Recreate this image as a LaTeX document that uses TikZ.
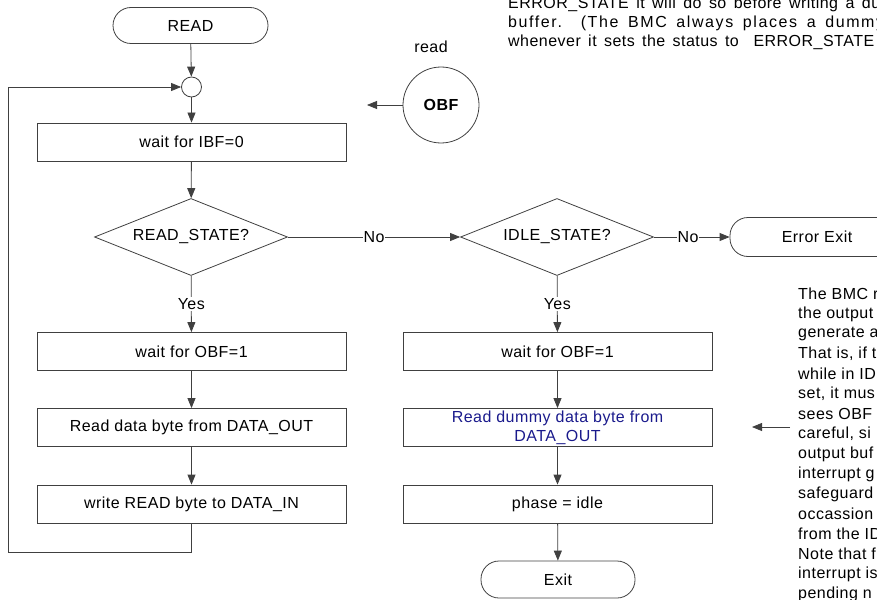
\documentclass[tikz,border=0pt]{standalone}
\usepackage{fontspec}
\setmainfont[LetterSpace=3]{Liberation Sans}
\usetikzlibrary{shapes.geometric,arrows.meta,positioning}
\definecolor{dummyblue}{RGB}{26,26,140}
\definecolor{linegray}{RGB}{64,64,64}
\newcommand\diafont{\fontsize{16}{19}\selectfont}
\newcommand\wideline[3]{\makebox[#1][s]{\addfontfeature{LetterSpace=#2}#3}}

\begin{document}
\begin{tikzpicture}[x=1pt,y=-1pt,font=\diafont]
            \tikzset{line/.style={draw=linegray, line width=0.8pt},
            flow/.style={line, -{Triangle[length=10pt,width=8pt]}},
            proc/.style={line, rectangle, minimum width=309pt, minimum height=38pt, inner sep=0pt},
            term/.style={line, rectangle, rounded corners=18pt, minimum height=36pt, inner sep=0pt},
            dec/.style={line, diamond, aspect=2.5, minimum width=193pt, minimum height=77pt, inner sep=0pt},
            lbl/.style={fill=white, inner sep=1pt},
            note/.style={anchor=west, inner sep=0pt}}

            \useasboundingbox (0,0) rectangle (877,599);
            \clip (0,0) rectangle (877,599);

            % left column
            \node[term, minimum width=155pt] (read) at (190.5,25.5) {READ};
            \node[line, circle, minimum size=20pt, inner sep=0pt] (join) at (191.5,87) {};
            \node[proc] (ibf) at (191.5,142) {wait for IBF=0};
            \node[dec] (rs) at (191,237) {READ\_STATE?};
            \node[proc] (wl) at (191.5,351.5) {wait for OBF=1};
            \node[proc] (rd) at (191.5,427.5) {Read data byte from DATA\_OUT};
            \node[proc] (wr) at (191.5,504) {write READ byte to DATA\_IN};
            \coordinate (loop) at (8,552);

            % right column
            \node[dec] (is) at (557,237) {IDLE\_STATE?};
            \node[term, minimum width=174pt, minimum height=39pt] (err) at (817,237) {Error Exit};
            \node[proc] (wr2) at (557.5,351.5) {wait for OBF=1};
            \node[proc, text=dummyblue, align=center] (dum) at (557.5,427.5) {Read dummy data byte from\\DATA\_OUT};
            \node[proc] (ph) at (557.5,504) {phase = idle};
            \node[term, minimum width=154pt, minimum height=37pt] (exit) at (558,579.5) {Exit};

            % OBF flag
            \node[line, circle, minimum size=76pt, inner sep=0pt, font=\diafont\bfseries] (obf) at (441,105) {OBF};
            \node (rdlbl) at (431,47) {read};
            \coordinate (obfend) at (367,105);

            \draw[flow] (read) -- (join);
            \draw[flow] (join) -- (ibf);
            \draw[flow] (ibf) -- (rs);
            \draw[flow] (rs) -- node[lbl] {No} (is);
            \draw[flow] (is) -- node[lbl, pos=.45] {No} (err);
            \draw[flow] (rs) -- node[lbl] {Yes} (wl);
            \draw[flow] (wl) -- (rd);
            \draw[flow] (rd) -- (wr);
            \draw[flow] (wr.south) |- (loop) |- (join);
            \draw[flow] (is) -- node[lbl] {Yes} (wr2);
            \draw[flow] (wr2) -- (dum);
            \draw[flow] (dum) -- (ph);
            \draw[flow] (ph) -- (exit);
            \draw[flow] (obf) -- (obfend);

            % notes
            \node[note] (top1) at (508,4) {\wideline{372pt}{3}{ERROR\_STATE it will do so before writing a du}};
            \node[note] (top2) at (508,23) {\wideline{376pt}{10}{buffer. (The BMC always places a dummy}};
            \node[note] (top3) at (508,42) {\makebox[366pt][s]{whenever it sets the status to\ \ ERROR\_STATE}};
            \foreach \t [count=\i] in {The BMC r, the output, generate a, {That is, if t}, while in ID,
                {set, it mus}, sees OBF, {careful, si}, output buf, interrupt g, safeguard,
                occassion, from the ID, Note that f, interrupt is, pending n}
                \node[note] (bmc\i) at (798,{294+20*(\i-1)}) {\t};
            \coordinate (notetail) at (790,427);
            \coordinate (notetip) at (752,427);
            \draw[flow] (notetail) -- (notetip);
        \end{tikzpicture}
\end{document}
